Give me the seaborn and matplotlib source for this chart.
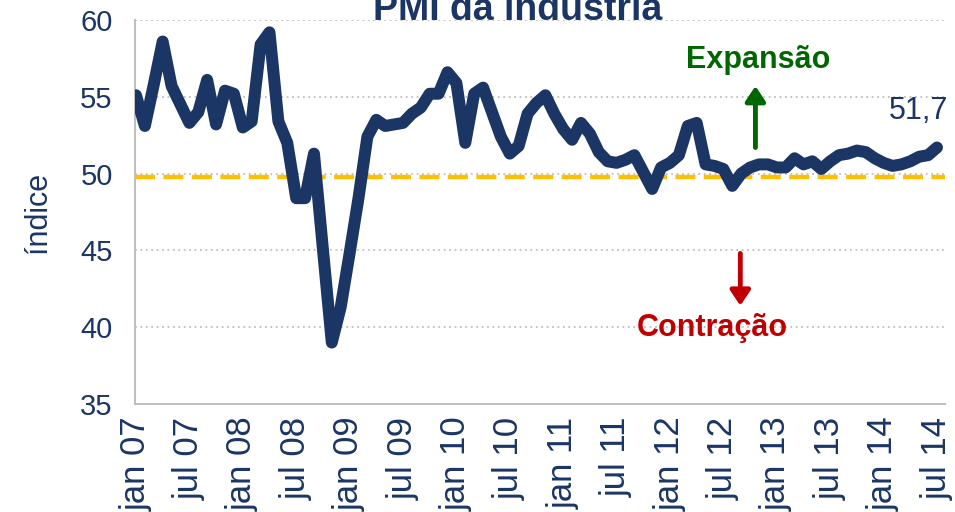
import numpy as np
import pandas as pd
import matplotlib
matplotlib.use("Agg")
import matplotlib.pyplot as plt
import seaborn as sns

# --- data (monthly, jan 07 .. jul 14) ---
pmi = [55.1, 53.1, 55.8, 58.6, 55.7, 54.5, 53.3, 54.0, 56.1, 53.2,
       55.4, 55.2, 53.0, 53.4, 58.4, 59.2, 53.4, 52.0, 48.4, 48.4,
       51.3, 45.1, 39.0, 41.3, 44.8, 48.4, 52.4, 53.5, 53.1, 53.2,
       53.3, 53.9, 54.3, 55.2, 55.2, 56.6, 55.9, 52.0, 55.2, 55.6,
       54.0, 52.4, 51.3, 51.8, 53.9, 54.6, 55.1, 53.9, 52.9, 52.2,
       53.3, 52.6, 51.4, 50.8, 50.7, 50.9, 51.2, 50.1, 49.0, 50.4,
       50.7, 51.2, 53.1, 53.3, 50.6, 50.5, 50.3, 49.2, 50.0, 50.4,
       50.6, 50.6, 50.4, 50.4, 51.0, 50.6, 50.8, 50.3, 50.8, 51.2,
       51.3, 51.5, 51.4, 51.0, 50.7, 50.5, 50.6, 50.8, 51.1, 51.2,
       51.7]
tick_labels = ["jan 07", "jul 07", "jan 08", "jul 08", "jan 09", "jul 09",
               "jan 10", "jul 10", "jan 11", "jul 11", "jan 12", "jul 12",
               "jan 13", "jul 13", "jan 14", "jul 14"]
threshold = 49.75
last_label = "51,7"

NAVY = "#1B3564"
GREY = "#BFBFBF"

df = pd.DataFrame({"mes": np.arange(len(pmi)), "pmi": pmi})

sns.set_style("white")
plt.rcParams["font.family"] = ["Liberation Sans", "DejaVu Sans"]

fig = plt.figure(figsize=(9.55, 5.12), dpi=100)
ax = fig.add_axes([135 / 955, 1 - 404 / 512, 810 / 955, 384 / 512])

ax.axhline(threshold, color="#FFC000", lw=3.2, ls=(0, (4.5, 1.9)), zorder=2)
sns.lineplot(data=df, x="mes", y="pmi", ax=ax, color=NAVY, lw=8.6,
             zorder=3, solid_joinstyle="round", solid_capstyle="round")

ax.set_xlim(-0.11, 90.9)
ax.set_ylim(35, 60)
ax.set_yticks([35, 40, 45, 50, 55, 60])
ax.set_xticks(np.arange(0, 91, 6))
ax.set_xticklabels(tick_labels, rotation=90, va="top", ha="center",
                   fontsize=25)
for y in [40, 45, 50, 55, 60]:
    ax.axhline(y, color=GREY, lw=1.3, ls=(0, (1, 2)), zorder=1)

for s in ["top", "right"]:
    ax.spines[s].set_visible(False)
for s in ["left", "bottom"]:
    ax.spines[s].set_color(GREY)
    ax.spines[s].set_linewidth(1.5)

ax.tick_params(axis="both", colors=GREY, labelcolor=NAVY,
               direction="out", length=7, width=1.5)
ax.tick_params(axis="y", labelsize=21, pad=9)
ax.tick_params(axis="x", pad=2)
ax.set_xlabel("")
ax.set_ylabel("índice", color=NAVY, fontsize=22, labelpad=20)

fig.text(518 / 955, 1 - 20 / 512, "PMI da indústria", ha="center",
         va="baseline", fontsize=27, fontweight="bold", color=NAVY)

ax.text(87.9, 54.1, last_label, ha="center", va="center", fontsize=22,
        color=NAVY)
ax.text(69.9, 57.4, "Expansão", ha="center", va="center", fontsize=22,
        fontweight="bold", color="#006600")
ax.text(64.8, 39.95, "Contração", ha="center", va="center", fontsize=22,
        fontweight="bold", color="#C00000")

ax.annotate("", xy=(69.6, 55.7), xytext=(69.6, 51.7),
            arrowprops=dict(arrowstyle="-|>,head_length=0.9,head_width=0.6",
                            color="#006600", lw=3.5, shrinkA=0, shrinkB=0))
ax.annotate("", xy=(67.9, 41.4), xytext=(67.9, 44.8),
            arrowprops=dict(arrowstyle="-|>,head_length=0.9,head_width=0.6",
                            color="#C00000", lw=3.5, shrinkA=0, shrinkB=0))

fig.savefig("out.png", dpi=100)
